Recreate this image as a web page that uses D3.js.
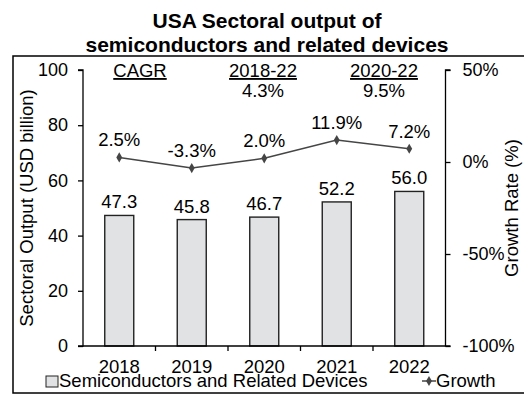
<!DOCTYPE html>
<html lang="en">
<head>
<meta charset="UTF-8">
<title>USA Sectoral output</title>
<script src="https://cdn.jsdelivr.net/npm/d3@7"></script>
<style>
body { margin: 0; background: #fff; }
svg { display: block; }
text { font-family: 'Liberation Sans', Arial, sans-serif; fill: #000; }
.axis path, .axis line { stroke: #000; stroke-width: 1.3; }
.axis text { font-size: 18px; }
</style>
</head>
<body>
<svg id="canvas"></svg>
<script>
// data
let years = ['2018', '2019', '2020', '2021', '2022']
let output = [47.3, 45.8, 46.7, 52.2, 56.0]
let growth = [2.5, -3.3, 2.0, 11.9, 7.2]
let leftTicks = [0, 20, 40, 60, 80, 100]
let rightTicks = [-100, -50, 0, 50]
let cagrHeads = ['CAGR', '2018-22', '2020-22']
let cagrValues = ['', '4.3%', '9.5%']

let width = 524
let height = 397
let plotLeft = 83
let plotRight = 445.5
let plotTop = 70
let plotBottom = 346

let svg = d3.select('#canvas').attr('width', width).attr('height', height)

let xScale = d3.scaleBand().domain(years).range([plotLeft, plotRight]).paddingInner(0.6).paddingOuter(0.3)
let xAxisScale = d3.scaleBand().domain(years).range([plotLeft, plotRight])
let yScale = d3.scaleLinear().domain([0, 100]).range([plotBottom, plotTop])
let gScale = d3.scaleLinear().domain([-100, 50]).range([plotBottom, plotTop])

// outer frame
svg.append('rect')
    .attr('x', 13).attr('y', 56)
    .attr('width', 530).attr('height', 337)
    .attr('fill', 'none').attr('stroke', '#000').attr('stroke-width', 1.5)

// title
svg.append('text').attr('x', 267).attr('y', 28).attr('text-anchor', 'middle')
    .style('font-size', '21px').style('font-weight', 'bold')
    .text('USA Sectoral output of')
svg.append('text').attr('x', 267).attr('y', 52).attr('text-anchor', 'middle')
    .style('font-size', '21px').style('font-weight', 'bold')
    .text('semiconductors and related devices')

// bars
svg.selectAll('.bar')
    .data(output)
    .enter()
    .append('rect')
    .attr('class', 'bar')
    .attr('x', (d, i) => xScale(years[i]))
    .attr('y', (d) => yScale(d))
    .attr('width', xScale.bandwidth())
    .attr('height', (d) => plotBottom - yScale(d))
    .attr('fill', '#e1e2e3')
    .attr('stroke', '#222')
    .attr('stroke-width', 1.4)

svg.selectAll('.barlabel')
    .data(output)
    .enter()
    .append('text')
    .attr('x', (d, i) => xScale(years[i]) + xScale.bandwidth() / 2)
    .attr('y', (d) => yScale(d) - 7)
    .attr('text-anchor', 'middle')
    .style('font-size', '18.5px')
    .text((d) => d.toFixed(1))

// axes
let yAxis = d3.axisLeft(yScale).tickValues(leftTicks).tickSize(5).tickPadding(10)
svg.append('g').attr('class', 'axis').attr('transform', 'translate(' + plotLeft + ',0)').call(yAxis)
    .call(g => g.select('.domain').attr('d', 'M-5,' + plotTop + 'H0V' + plotBottom + 'H-5'))

let gAxis = d3.axisRight(gScale).tickValues(rightTicks).tickSize(5).tickPadding(12)
    .tickFormat(d => d + '%')
svg.append('g').attr('class', 'axis').attr('transform', 'translate(' + plotRight + ',0)').call(gAxis)
    .call(g => g.select('.domain').attr('d', 'M5,' + plotTop + 'H0V' + plotBottom + 'H5'))

let xAxis = d3.axisBottom(xAxisScale).tickSize(0).tickPadding(14)
let xg = svg.append('g').attr('class', 'axis').attr('transform', 'translate(0,' + plotBottom + ')').call(xAxis)
xg.select('.domain').attr('d', 'M' + plotLeft + ',0H' + plotRight)
xg.selectAll('.sep')
    .data(years.slice(1))
    .enter()
    .append('line')
    .attr('x1', (d) => xAxisScale(d)).attr('x2', (d) => xAxisScale(d))
    .attr('y1', 0).attr('y2', 5)
xg.selectAll('text').style('font-size', '18.5px')

// growth line
let cx = (i) => xAxisScale(years[i]) + xAxisScale.bandwidth() / 2
let line = d3.line().x((d, i) => cx(i)).y((d) => gScale(d))
svg.append('path')
    .datum(growth)
    .attr('d', line)
    .attr('fill', 'none')
    .attr('stroke', '#454545')
    .attr('stroke-width', 1.5)

let diamond = d3.symbol().type(d3.symbolDiamond).size(30)
svg.selectAll('.pt')
    .data(growth)
    .enter()
    .append('path')
    .attr('d', diamond)
    .attr('transform', (d, i) => 'translate(' + cx(i) + ',' + gScale(d) + ')')
    .attr('fill', '#454545')

svg.selectAll('.glabel')
    .data(growth)
    .enter()
    .append('text')
    .attr('x', (d, i) => cx(i))
    .attr('y', (d) => gScale(d) - 11)
    .attr('text-anchor', 'middle')
    .style('font-size', '18.5px')
    .text((d) => d.toFixed(1) + '%')

// CAGR annotation
let cagrX = [140, 263, 384]
svg.selectAll('.chead')
    .data(cagrHeads)
    .enter()
    .append('text')
    .attr('x', (d, i) => cagrX[i])
    .attr('y', 77)
    .attr('text-anchor', 'middle')
    .style('font-size', '18.5px')
    .style('text-decoration', 'underline')
    .text((d) => d)
svg.selectAll('.cval')
    .data(cagrValues)
    .enter()
    .append('text')
    .attr('x', (d, i) => cagrX[i])
    .attr('y', 97)
    .attr('text-anchor', 'middle')
    .style('font-size', '18.5px')
    .text((d) => d)

// axis titles
svg.append('text')
    .attr('transform', 'translate(33,' + (plotTop + plotBottom) / 2 + ') rotate(-90)')
    .attr('text-anchor', 'middle')
    .style('font-size', '18.5px')
    .text('Sectoral Output (USD billion)')
svg.append('text')
    .attr('transform', 'translate(518,' + (plotTop + plotBottom) / 2 + ') rotate(-90)')
    .attr('text-anchor', 'middle')
    .style('font-size', '18.5px')
    .text('Growth Rate (%)')

// legend
svg.append('rect')
    .attr('x', 46).attr('y', 376).attr('width', 12).attr('height', 11)
    .attr('fill', '#e1e2e3').attr('stroke', '#222').attr('stroke-width', 1)
svg.append('text').attr('x', 59).attr('y', 387).style('font-size', '18.5px')
    .text('Semiconductors and Related Devices')
svg.append('line')
    .attr('x1', 422).attr('x2', 436).attr('y1', 381).attr('y2', 381)
    .attr('stroke', '#454545').attr('stroke-width', 1.5)
svg.append('path').attr('d', diamond).attr('transform', 'translate(429,381)').attr('fill', '#454545')
svg.append('text').attr('x', 436).attr('y', 387).style('font-size', '18.5px').text('Growth')
</script>
</body>
</html>
